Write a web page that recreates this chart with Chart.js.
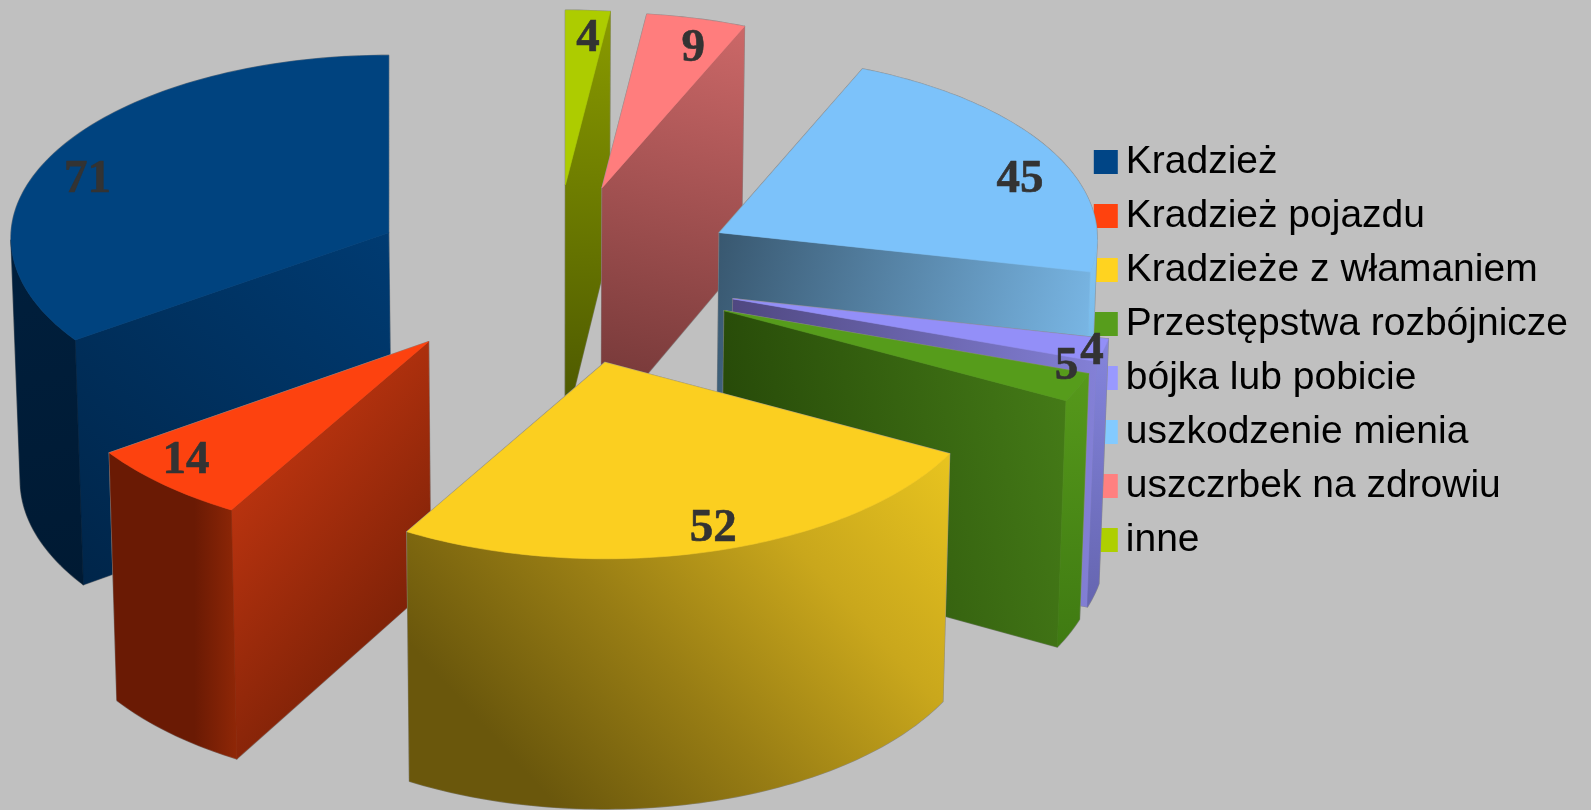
<!DOCTYPE html>
<html><head><meta charset="utf-8">
<style>html,body{margin:0;padding:0;background:#c0c0c0}#w{position:relative;width:1591px;height:810px;overflow:hidden}canvas{display:block}</style>
<script src="https://cdn.jsdelivr.net/npm/chart.js@4"></script>
</head><body><div id="w"><canvas id="c" width="1591" height="810"></canvas></div>
<script>
const categories = ['Kradzież','Kradzież pojazdu','Kradzieże z włamaniem','Przestępstwa rozbójnicze','bójka lub pobicie','uszkodzenie mienia','uszczrbek na zdrowiu','inne'];
const values = [71,14,52,5,4,45,9,4];
const legendColors = ['#004586','#ff420e','#ffd320','#579d1c','#9999ff','#83caff','#ff8080','#aecf00'];
const topColors = ['#00437f','#fd420f','#fbcf20','#569c1b','#938ff8','#7cc2fa','#ff7d7d','#adcc00'];
// how far along the slice's bisector each value label sits: [across, along depth]
const labelPull = [[.906,.65],[.92,.83],[1,.88],[.97,.72],[.97,1],[.905,.65],[.96,.825],[1,.84]];
// shading: [x0,y0,x1,y1 as bbox fractions, then colour stops]
const radialShades = [
  [0,1,1,0,'#002549','#003b72'],
  [0,.4,1,.8,'#b8330f','#6e1d05'],
  [0,0,1,0,'#8f7613','#bf9e1a'],
  [0,.5,1,.3,'#264808','#447a17'],
  [0,0,1,0,'#4f4780','#8380d6'],
  [0,0,1,.3,'#38576f','#78b5e3'],
  [1,0,.3,1,'#cc6868','#6f3535'],
  [1,0,.5,1,'#8a9b00','#4a5600']
];
const wallShades = [
  [0,0,1,1,'#001f3d','#001a33'],
  [0,0,1,0,'#6a1a04','#6a1a04','#6a1a04','#8f2707'],
  [1,0,.28,1,'#e8c41f','#c9a71c','#987d14','#6a570c'],
  [0,0,0,1,'#56991b','#3f7a12'],
  [0,0,0,1,'#8585dd','#6565b0'],
  [0,0,0,1,'#83c5f5','#66a8d4'],
  [0,0,0,1,'#ff8080','#cc6868'],
  [0,0,0,1,'#aecf00','#8a9b00']
];
const CX=554, CY=274, SX=380, SY=185, PERSP=.03, DEPTH=243, DEPTH_P=.02, CONV=.017, EXPLODE=.49;

// X,Y: position in the pie plane (radius 1); ax: the slice's own x offset; z: 0 top, 1 bottom
function project(X,Y,z,ax){
  const w=1-PERSP*Y;
  return [CX+SX*(ax+(X-ax)/w)*(1-CONV*z), CY+SY*Y/w+z*DEPTH*(1+DEPTH_P*Y)];
}
function pathOf(ctx,pts){ctx.beginPath();pts.forEach((p,i)=>i?ctx.lineTo(p[0],p[1]):ctx.moveTo(p[0],p[1]));ctx.closePath();}
function shade(ctx,pts,s){
  const xs=pts.map(p=>p[0]),ys=pts.map(p=>p[1]);
  const x0=Math.min(...xs),x1=Math.max(...xs),y0=Math.min(...ys),y1=Math.max(...ys);
  const g=ctx.createLinearGradient(x0+s[0]*(x1-x0),y0+s[1]*(y1-y0),x0+s[2]*(x1-x0),y0+s[3]*(y1-y0));
  const cols=s.slice(4);cols.forEach((c,i)=>g.addColorStop(i/(cols.length-1),c));
  return g;
}
function faces(arc,i){
  // Chart.js arcs run clockwise from the top; this chart runs counter-clockwise, so mirror them.
  const a=-(arc.startAngle+Math.PI/2), b=-(arc.endAngle+Math.PI/2);
  const lo=Math.min(a,b), hi=Math.max(a,b), mid=(lo+hi)/2;
  const ax=EXPLODE*Math.sin(mid), ay=-EXPLODE*Math.cos(mid);
  const rim=t=>[ax+Math.sin(t),ay-Math.cos(t)];
  const facing=(nx,ny,p)=>nx*(ax-p[0])+ny*(1/PERSP-p[1])>0;
  const P=(q,z)=>project(q[0],q[1],z,ax);
  const list=[];
  [[lo,-1],[hi,1]].forEach(([t,sg])=>{
    const nx=sg*Math.cos(t), ny=sg*Math.sin(t), r=rim(t);
    if(facing(nx,ny,[(ax+r[0])/2,(ay+r[1])/2])){
      list.push({pts:[P([ax,ay],0),P(r,0),P(r,1),P([ax,ay],1)],s:radialShades[i]});
    }
  });
  const N=Math.max(4,Math.ceil((hi-lo)/0.02));
  const vis=[];
  for(let k=0;k<=N;k++){const t=lo+(hi-lo)*k/N;if(facing(Math.sin(t),-Math.cos(t),rim(t)))vis.push(t);}
  if(vis.length>1){
    const top=vis.map(t=>P(rim(t),0)), bot=vis.map(t=>P(rim(t),1)).reverse();
    list.push({pts:top.concat(bot),s:wallShades[i]});
  }
  const topPts=[P([ax,ay],0)];
  for(let k=0;k<=N;k++){topPts.push(P(rim(lo+(hi-lo)*k/N),0));}
  list.push({pts:topPts,c:topColors[i]});
  return {list,ay,ax,mid};
}
const pie3d={
  id:'pie3d',
  beforeDatasetDraw(chart,args){
    const ctx=chart.ctx, arcs=chart.getDatasetMeta(args.index).data;
    const slices=arcs.map((arc,i)=>Object.assign(faces(arc,i),{i})).sort((p,q)=>p.ay-q.ay);
    ctx.save();
    slices.forEach(sl=>{
      ctx.strokeStyle='#8c8c8c';ctx.lineWidth=1.6;ctx.lineJoin='round';
      sl.list.forEach(f=>{pathOf(ctx,f.pts);ctx.stroke();});
      sl.list.forEach(f=>{
        pathOf(ctx,f.pts);
        const fill=f.c||shade(ctx,f.pts,f.s);
        ctx.fillStyle=fill;ctx.strokeStyle=fill;ctx.lineWidth=.6;ctx.fill();ctx.stroke();
      });
    });
    ctx.font='bold 47px "Liberation Serif"';ctx.fillStyle='#333333';ctx.strokeStyle='#333333';ctx.lineWidth=.6;ctx.textAlign='center';ctx.textBaseline='middle';
    slices.slice().sort((p,q)=>p.i-q.i).forEach(sl=>{
      const sn=Math.sin(sl.mid),cs=Math.cos(sl.mid),f=labelPull[sl.i];
      const p=project(sl.ax+f[0]*sn,sl.ay-f[1]*cs,0,sl.ax);
      ctx.fillText(String(values[sl.i]),p[0],p[1]+1);
      ctx.strokeText(String(values[sl.i]),p[0],p[1]+1);
    });
    ctx.restore();
    return false;
  }
};
new Chart(document.getElementById('c'),{
  type:'pie',
  data:{labels:categories,datasets:[{data:values,backgroundColor:legendColors}]},
  options:{
    responsive:false,animation:false,
    layout:{padding:{right:13,bottom:108}},
    plugins:{
      tooltip:{enabled:false},
      legend:{position:'right',labels:{
        font:{family:'"Liberation Sans"',size:39,lineHeight:1},color:'#000',
        boxWidth:1,boxHeight:1,padding:15,
        generateLabels:()=>categories.map((t,i)=>({text:t,fillStyle:legendColors[i],strokeStyle:legendColors[i],lineWidth:23,lineJoin:'miter',hidden:false,index:i}))
      }}
    }
  },
  plugins:[pie3d]
});
</script>
</body></html>
